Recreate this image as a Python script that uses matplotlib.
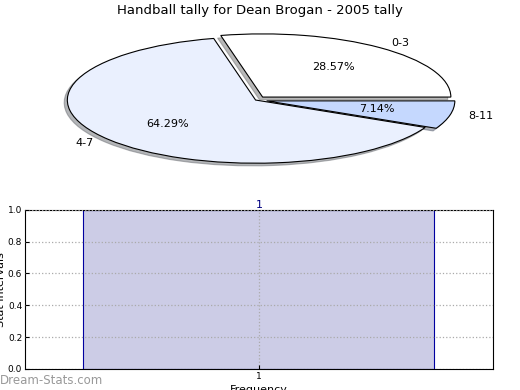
import matplotlib
matplotlib.use('Agg')
import matplotlib.pyplot as plt

# pie data
slice_labels = ['0-3', '4-7', '8-11']
slice_values = [4, 9, 1]
slice_colors = ['#ffffff', '#eaf0fe', '#c5d8fe']
slice_explode = [0.06, 0.0, 0.06]

# bar data
bar_x = [1]
bar_heights = [1.0]
bar_text = ['1']

fig = plt.figure(figsize=(5.2, 3.9), dpi=100)

# --- pie (squashed into a wide ellipse) ---
ax1 = fig.add_axes([0.039, 0.541, 0.905, 0.405])
wedges, texts, autotexts = ax1.pie(
    slice_values, labels=slice_labels, colors=slice_colors,
    explode=slice_explode, autopct='%.2f%%',
    shadow={'ox': -0.012, 'oy': -0.03, 'shade': 0.55},
    startangle=0, counterclock=True,
    wedgeprops=dict(edgecolor='black', linewidth=0.8),
    textprops=dict(fontsize=8))
ax1.set_aspect('auto')
ax1.set_xlim(-1.25, 1.25)
ax1.set_ylim(-1.25, 1.25)
ax1.set_axis_off()
fig.text(0.5, 0.972, 'Handball tally for Dean Brogan - 2005 tally',
         ha='center', va='center', fontsize=9.5)

# --- bar ---
ax2 = fig.add_axes([0.048, 0.054, 0.9, 0.408])
ax2.bar(bar_x, bar_heights, width=0.75, color='#ccccE6', edgecolor='#0000a0',
        linewidth=0.8, zorder=2)
for x, h, t in zip(bar_x, bar_heights, bar_text):
    ax2.text(x, h, t, ha='center', va='bottom', color='#000080', fontsize=8)
ax2.set_xlim(0.5, 1.5)
ax2.set_ylim(0, 1.0)
ax2.set_xticks(bar_x)
ax2.set_xticklabels(['1'])
ax2.set_yticks([0.0, 0.2, 0.4, 0.6, 0.8, 1.0])
ax2.set_yticklabels(['0.0', '0.2', '0.4', '0.6', '0.8', '1.0'])
ax2.tick_params(direction='in', labelsize=6.5, length=3, pad=2)
ax2.grid(True, linestyle=':', color='#aaaaaa', linewidth=0.9, zorder=3)
ax2.set_axisbelow(False)
ax2.set_xlabel('Frequency', fontsize=8, labelpad=3)
ax2.set_ylabel('Stat Intervals', fontsize=8, labelpad=1)

fig.text(0.0, 0.024, 'Dream-Stats.com', color='#999999', fontsize=8.5,
         ha='left', va='center')

fig.savefig('out.png', dpi=100)
